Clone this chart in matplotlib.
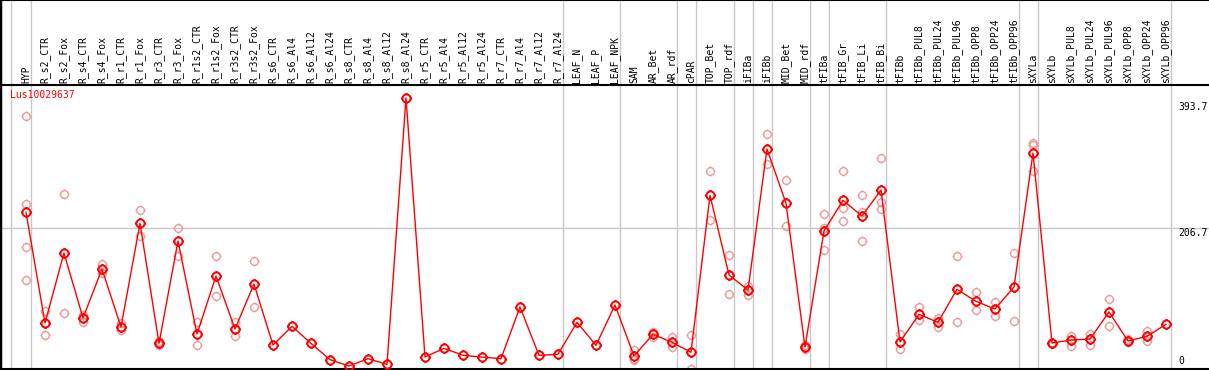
import matplotlib
matplotlib.use("Agg")
import matplotlib.pyplot as plt
from matplotlib.path import Path

gene = "Lus10029637"

samples = ["HYP", "R_s2_CTR", "R_s2_Fox", "R_s4_CTR", "R_s4_Fox", "R_r1_CTR", "R_r1_Fox",
           "R_r3_CTR", "R_r3_Fox", "R_r1s2_CTR", "R_r1s2_Fox", "R_r3s2_CTR", "R_r3s2_Fox",
           "R_s6_CTR", "R_s6_Al4", "R_s6_Al12", "R_s6_Al24", "R_s8_CTR", "R_s8_Al4",
           "R_s8_Al12", "R_s8_Al24", "R_r5_CTR", "R_r5_Al4", "R_r5_Al12", "R_r5_Al24",
           "R_r7_CTR", "R_r7_Al4", "R_r7_Al12", "R_r7_Al24", "LEAF_N", "LEAF_P", "LEAF_NPK",
           "SAM", "AR_Bet", "AR_rdf", "cPAR", "TOP_Bet", "TOP_rdf", "iFIBa", "iFIBb",
           "MID_Bet", "MID_rdf", "tFIBa", "tFIB_Gr", "tFIB_Li", "tFIB_Bi", "tFIBb",
           "tFIBb_PUL8", "tFIBb_PUL24", "tFIBb_PUL96", "tFIBb_OPP8", "tFIBb_OPP24",
           "tFIBb_OPP96", "sXYLa", "sXYLb", "sXYLb_PUL8", "sXYLb_PUL24", "sXYLb_PUL96",
           "sXYLb_OPP8", "sXYLb_OPP24", "sXYLb_OPP96"]

means = [229.3, 70.0, 170.7, 77.2, 147.7, 64.3, 213.4, 40.8, 188.0, 54.2, 137.6, 61.4, 126.1,
         38.4, 65.3, 40.8, 17.3, 8.2, 18.7, 10.6, 393.7, 21.1, 33.6, 23.6, 21.1, 18.7, 93.1,
         23.6, 25.0, 71.0, 38.0, 95.9, 22.6, 53.8, 42.3, 27.9, 253.7, 139.1, 117.5, 320.3,
         242.2, 35.5, 202.4, 246.5, 223.9, 261.3, 42.7, 82.5, 71.0, 118.5, 101.2, 90.2,
         121.8, 314.5, 41.3, 45.6, 47.0, 85.9, 44.2, 50.9, 68.2]

replicates = [[367.3, 241.2, 178.9, 131.4], [87.8, 70.0, 52.3], [255.6, 84.4], [81.0, 72.0],
              [155.3, 141.5], [69.6, 60.0], [232.6, 195.2], [43.7, 38.0], [206.7, 166.8],
              [71.5, 38.0], [166.4, 108.9], [71.5, 50.9], [158.8, 92.6],
              [], [], [], [], [], [], [], [], [], [], [], [], [], [], [], [], [], [], [],
              [31.7, 18.7, 17.0], [57.5, 50.1], [49.5, 36.0], [52.3, 3.4], [288.2, 217.7],
              [167.4, 111.3], [123.3, 109.9], [341.4, 298.7], [275.3, 209.1], [38.4, 32.6],
              [226.4, 206.0, 174.6], [288.2, 235.0, 216.7], [253.7, 230.1, 188.0],
              [306.9, 243.6, 233.6], [53.8, 32.2], [93.1, 73.9], [77.7, 64.7], [166.0, 71.0],
              [114.6, 88.3], [100.2, 79.7], [170.7, 72.9], [329.4, 325.6, 288.2], [42.0, 40.5],
              [51.8, 37.4], [53.8, 38.8], [104.6, 65.3], [47.4, 42.3], [58.5, 44.6], []]

# grey separators: after these sample indices
group_ends = [0, 28, 31, 34, 35, 37, 38, 39, 41, 42, 45, 52, 53, 60]
yticks = [393.7, 206.7, 0]

RED = "#ff0000"
PINK = "#ee9a9a"
GREY = "#c8c8c8"

# circle with four small ticks, like the original markers
circ = Path.unit_circle()
ticks = Path([(0, 1), (0, 1.3), (0, -1), (0, -1.3), (1, 0), (1.3, 0), (-1, 0), (-1.3, 0)],
             [Path.MOVETO, Path.LINETO] * 4)
mk = Path.make_compound_path(circ, ticks)

plt.rcParams['font.family'] = ['DejaVu Sans Mono']

fig = plt.figure(figsize=(12.09, 3.70), dpi=100)
W, H = 1209.0, 370.0
xlim = (-26 / 19.0, (W - 26) / 19.0)

# label band
axl = fig.add_axes([0, 1 - 85 / H, 1, 85 / H])
axl.set_xlim(*xlim)
axl.set_ylim(0, 1)
axl.set_xticks([])
axl.set_yticks([])
for s in ["right", "bottom"]:
    axl.spines[s].set_visible(False)
axl.spines["top"].set_linewidth(1.5)
axl.spines["left"].set_linewidth(2.5)
for i, name in enumerate(samples):
    axl.annotate(name, xy=(i, 0), xycoords="data", xytext=(0, 2), textcoords="offset pixels",
                 rotation=90, ha="center", va="bottom", fontsize=7)

# main plot
ax = fig.add_axes([0, 1 / H, 1, 284 / H])
ax.set_xlim(*xlim)
ax.set_ylim(3.9, 412.3)
ax.set_xticks([])
ax.set_yticks([])
ax.spines["right"].set_visible(False)
for s in ["top", "bottom"]:
    ax.spines[s].set_linewidth(1.5)
ax.spines["left"].set_linewidth(2.5)

for a in (ax, axl):
    a.axvline(-0.8, color=GREY, lw=1, zorder=0)
    for g in group_ends:
        a.axvline(g + 0.24, color=GREY, lw=1, zorder=0)
ax.axhline(206.7, color=GREY, lw=1, zorder=0)

xs = list(range(len(samples)))
for i, reps in enumerate(replicates):
    if reps:
        ax.plot([i] * len(reps), reps, linestyle="none", marker=mk, ms=7.2, mfc="none",
                mec=PINK, mew=1.0, zorder=2)

ax.plot(xs, means, color=RED, lw=1, marker=mk, ms=7.6, mfc="none", mec=RED, mew=1.4, zorder=3)

ax.text(0.008, 0.965, gene, transform=ax.transAxes, color=RED, fontsize=7, ha="left", va="center")

for v in yticks:
    dy = -4 if v > 300 else (0 if v > 0 else 6)
    ax.annotate(str(v) if v else "0", xy=(1, v), xycoords=("axes fraction", "data"),
                xytext=(-31, dy), textcoords="offset pixels",
                ha="left", va="top" if v > 0 else "bottom", fontsize=7)

fig.savefig("out.png", dpi=100)
